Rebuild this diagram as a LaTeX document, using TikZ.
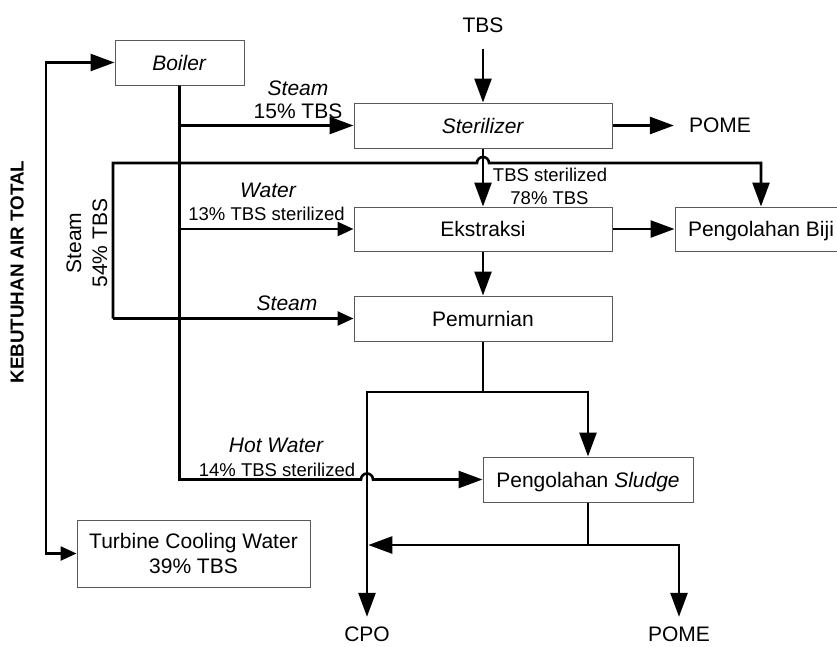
\documentclass[tikz,border=0pt]{standalone}
\usepackage{fontspec}
\setmainfont{Liberation Sans}
\usetikzlibrary{arrows.meta, positioning}

\newcommand{\bigsize}{\fontsize{21pt}{26pt}\selectfont}
\newcommand{\subsize}{\fontsize{18.5pt}{22pt}\selectfont}

\begin{document}
\begin{tikzpicture}[x=1pt, y=-1pt,
					flow/.style={line width=2.6pt},
					bigtip/.style={-{Triangle[length=24pt,width=17pt]}},
					smalltip/.style={-{Triangle[length=16pt,width=14pt]}},
					proc/.style={draw=black!65, line width=1pt, inner sep=0pt, minimum height=45pt,
						text height=16pt, text depth=1pt, font=\bigsize},
					lbl/.style={inner sep=0pt, text height=16pt, text depth=1pt, font=\bigsize},
					sub/.style={inner sep=0pt, text height=14pt, text depth=1pt, font=\subsize}]

					\useasboundingbox (0,0) rectangle (837,646);

					% process boxes
					\node[proc, minimum width=129pt] (boiler) at (179.5,62.5) {\textit{Boiler}};
					\node[proc, minimum width=258pt] (steril) at (483,125.5) {\textit{Sterilizer}};
					\node[proc, minimum width=258pt, minimum height=44pt] (ekstr) at (483,229) {Ekstraksi};
					\node[proc, minimum width=258pt] (pemurn) at (483,318.5) {Pemurnian};
					\node[proc, minimum width=172pt, minimum height=44pt] (biji) at (761,229) {Pengolahan Biji};
					\node[proc, minimum width=210pt] (sludge) at (588,479.5) {Pengolahan \textit{Sludge}};
					\node[draw=black!65, line width=1pt, inner sep=0pt, minimum width=233pt, minimum height=67pt,
						align=center, font=\fontsize{21pt}{25pt}\selectfont] (turbine) at (193.5,553.5) {Turbine Cooling Water\\39\% TBS};

					% end labels
					\node[lbl] (tbs) at (483,24.5) {TBS};
					\node[lbl] (pomeA) at (720,125) {POME};
					\node[lbl] (cpo) at (367,634) {CPO};
					\node[lbl] (pomeB) at (679,634) {POME};
					\node[lbl, text height=14pt, font=\fontsize{18.8pt}{22pt}\selectfont\bfseries, rotate=90] (ket) at (17,272) {KEBUTUHAN AIR TOTAL};

					% flow labels
					\node[lbl, font=\bigsize\itshape] (stmA) at (298,88) {Steam};
					\node[lbl] (pctA) at (298,111) {15\% TBS};
					\node[lbl, font=\bigsize\itshape] (wtr) at (268,189.5) {Water};
					\node[sub] (pctB) at (266.5,213.5) {13\% TBS sterilized};
					\node[lbl, font=\bigsize\itshape] (stmC) at (287,303) {Steam};
					\node[lbl, font=\bigsize\itshape] (hwtr) at (276,445) {Hot Water};
					\node[sub] (pctC) at (277,470) {14\% TBS sterilized};
					\node[sub] (tsA) at (550,175) {TBS sterilized};
					\node[sub] (tsB) at (549.5,198) {78\% TBS};
					\node[inner sep=0pt, align=center, rotate=90, font=\bigsize] (stmB) at (87,243) {Steam\\54\% TBS};

					% main line
					\draw[flow, bigtip, shorten <=16pt] (tbs) -- (steril);
					\draw[flow, bigtip, shorten >=15pt] (steril.east) -- (steril.east -| pomeA.west);
					\draw[flow, bigtip] (steril) -- (ekstr);
					\draw[flow, bigtip] (ekstr) -- (biji);
					\draw[flow, bigtip] (ekstr) -- (pemurn);

					\coordinate (splitA) at (483,392);
					\draw[flow] (pemurn) -- (splitA);
					\draw[flow, bigtip] (splitA) -| (sludge.north);
					\draw[flow, bigtip, shorten >=8.5pt] (splitA) -| (cpo.north);

					\coordinate (splitB) at (588,545);
					\draw[flow] (sludge) -- (splitB);
					\draw[flow, bigtip, shorten >=8.5pt] (splitB) -| (pomeB.north);
					\draw[flow, bigtip, shorten >=1.3pt] (splitB) -- (splitB -| cpo);

					% boiler lines
					\coordinate (hw) at (boiler.south |- sludge.west);
					\draw[flow, bigtip] (boiler.south) -- (hw) -- (361,479.5)
						arc[start angle=180, end angle=0, radius=6pt] -- (sludge.west);
					\draw[flow, bigtip] (boiler.south |- steril.west) -- (steril.west);
					\draw[flow, smalltip] (boiler.south |- ekstr.west) -- (ekstr.west);

					% steam loop
					\coordinate (stm) at (113,318.5);
					\draw[flow, smalltip] (stm) -- (pemurn.west);
					\draw[flow, bigtip] (stm) -- (113,163) -- (477,163)
						arc[start angle=180, end angle=0, radius=6pt] -- (761,163) -- (biji.north);

					% total water
					\coordinate (air) at (46,300);
					\draw[flow, {Triangle[length=24pt,width=17pt]}-{Triangle[length=16pt,width=14pt]}]
						(boiler.west) -| (air) |- (turbine.west);
				\end{tikzpicture}
\end{document}
